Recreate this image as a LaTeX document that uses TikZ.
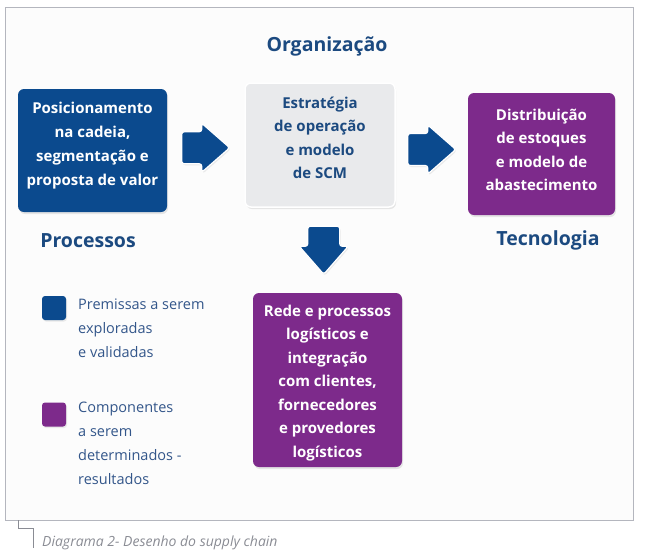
\documentclass[tikz,border=0pt]{standalone}
\usepackage{fontspec}
\setmainfont{Open Sans}
\usetikzlibrary{shadows,calc}
\definecolor{dblue}{HTML}{0B4A8E}
\definecolor{dpurple}{HTML}{7D2A8B}
\definecolor{headc}{HTML}{1C4A80}
\definecolor{legc}{HTML}{33568A}
\definecolor{grayfill}{HTML}{E9EAEC}
\definecolor{framec}{HTML}{B4B6BE}
\definecolor{capc}{HTML}{8A8C94}
\begin{document}
\begin{tikzpicture}[x=1pt,y=-1pt,
  box/.style={rounded corners=6pt, inner sep=0pt,
    drop shadow={opacity=0.18, shadow xshift=1pt, shadow yshift=-2pt}},
  bluebox/.style={box, fill=dblue},
  purplebox/.style={box, fill=dpurple},
  graybox/.style={box, fill=grayfill, draw=white, line width=1.5pt},
  boxtext/.style={align=center, inner sep=0pt, text=white,
    font=\bfseries\fontsize{15}{23.5}\selectfont},
  heading/.style={font=\bfseries\fontsize{19.5}{24}\selectfont, text=headc},
  legsq/.style={rounded corners=3pt, minimum size=24pt, inner sep=0pt,
    drop shadow={opacity=0.15, shadow xshift=1pt, shadow yshift=-1.5pt}},
  legtext/.style={anchor=north west, align=left, inner sep=0pt, text=legc,
    font=\fontsize{14.5}{24}\selectfont},
  blockarr/.pic={
    \filldraw[fill=dblue, draw=white, line width=1.2pt, rounded corners=2.5pt,
      drop shadow={opacity=0.15, shadow xshift=1pt, shadow yshift=-1.5pt}]
      (-24,-16) -- (-4,-16) -- (-4,-24.5) -- (24,0) -- (-4,24.5) -- (-4,16)
      -- (-24,16) -- cycle;
  }
]
\useasboundingbox (0,0) rectangle (650,558);
\draw[framec, fill=white!98!gray, line width=0.8pt] (5,7) rectangle (633,520);

\node[heading] (org) at (327,46) {Organização};
\node[heading] (proc) at (88,241) {Processos};
\node[heading] (tec) at (548,240) {Tecnologia};

\node[bluebox, minimum width=149pt, minimum height=123pt] (pos) at (92.5,150.5) {};
\node[boxtext, font=\bfseries\fontsize{15}{24}\selectfont] (posT) at ($(pos.center)+(0,-4.5)$)
  {Posicionamento\\na cadeia,\\segmentação e\\proposta de valor};
\node[graybox, minimum width=150pt, minimum height=124pt] (est) at (320,145) {};
\node[boxtext, text=headc] (estT) at ($(est.center)+(0,-7)$)
  {Estratégia\\de operação\\e modelo\\de SCM};
\node[purplebox, minimum width=147pt, minimum height=122pt] (dist) at (541.5,154) {};
\node[boxtext] (distT) at ($(dist.center)+(0,-4)$)
  {Distribuição\\de estoques\\e modelo de\\abastecimento};
\node[purplebox, minimum width=149pt, minimum height=174pt] (rede) at (327.5,380) {};
\node[boxtext] (redeT) at ($(rede.center)+(0,3)$)
  {Rede e processos\\logísticos e\\integração\\com clientes,\\fornecedores\\e provedores\\logísticos};

\coordinate (a1) at ($(pos.east)!0.5!(est.west)$);
\coordinate (a2) at ($(est.east)!0.5!(dist.west)$);
\coordinate (a3) at ($(est.south)!0.5!(rede.north)$);
\pic at (a1) {blockarr};
\pic at (a2) {blockarr};
\pic[rotate=-90] at (a3) {blockarr};

\node[legsq, fill=dblue] (lb) at (54,308) {};
\node[legsq, fill=dpurple] (lp) at (54,414.5) {};
\node[legtext] (lbt) at (78,299) {Premissas a serem\\exploradas\\e validadas};
\node[legtext] (lpt) at (78,401.5) {Componentes\\a serem\\determinados -\\resultados};

\coordinate (c1) at (18,520);
\coordinate (c2) at (18,528);
\coordinate (c3) at (33,528);
\coordinate (c4) at (33,548);
\draw[capc, line width=0.6pt] (c1) -- (c2) -- (c3) -- (c4);
\node[anchor=west, text=capc, inner sep=0pt, font=\itshape\fontsize{14}{15}\selectfont] (cap) at (42,543)
  {Diagrama 2- Desenho do supply chain};
\end{tikzpicture}
\end{document}
